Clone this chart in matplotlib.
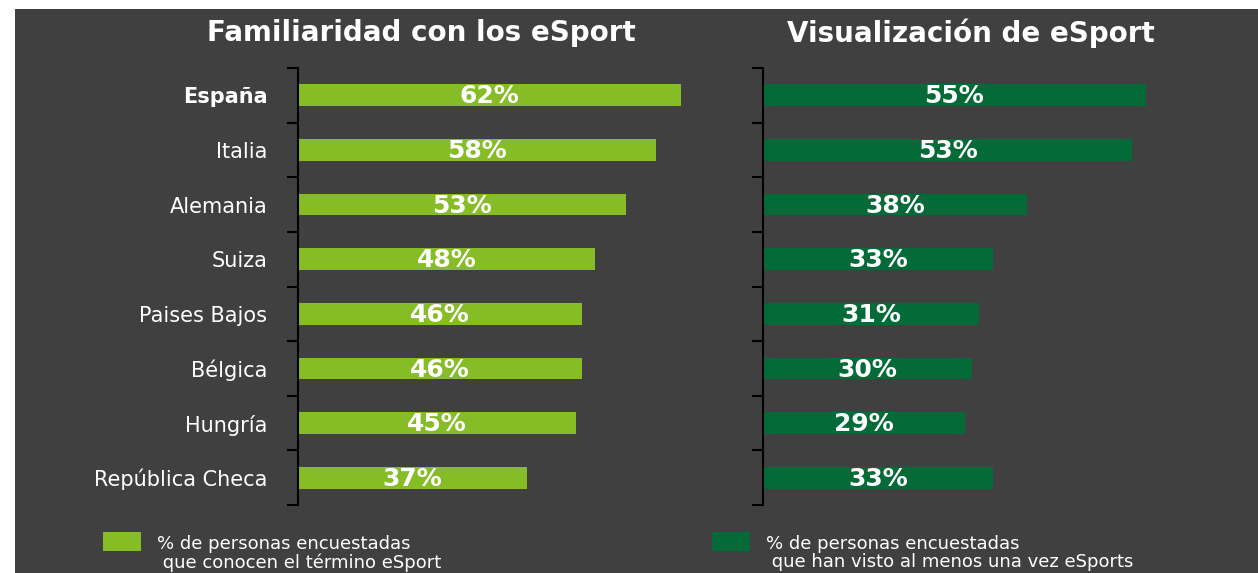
import matplotlib
matplotlib.use('Agg')
import matplotlib.pyplot as plt
from matplotlib.patches import Rectangle

# datos
paises = ['España', 'Italia', 'Alemania', 'Suiza', 'Paises Bajos', 'Bélgica',
          'Hungría', 'República Checa']
familiaridad = [62, 58, 53, 48, 46, 46, 45, 37]
visualizacion = [55, 53, 38, 33, 31, 30, 29, 33]

titulo_izq = 'Familiaridad con los eSport'
titulo_der = 'Visualización de eSport'
leyenda_izq = '% de personas encuestadas\n que conocen el término eSport'
leyenda_der = '% de personas encuestadas\n que han visto al menos una vez eSports'

verde_claro = '#86BC25'
verde_oscuro = '#046A38'
fondo = '#404040'

plt.rcParams['font.family'] = ['DejaVu Sans']

W, H = 1258, 573
fig = plt.figure(figsize=(W / 100, H / 100), dpi=100, facecolor='white')

# fondo oscuro
fig.patches.append(Rectangle((15 / W, 0), 1, 1 - 9 / H, transform=fig.transFigure,
                             facecolor=fondo, edgecolor='none', zorder=-10))

def fx(px):
    return px / W

def fy(py):
    return 1 - py / H

top, bottom = 68, 505
ax1 = fig.add_axes([fx(298), fy(bottom), fx(6.18 * 70), (bottom - top) / H])
ax2 = fig.add_axes([fx(763), fy(bottom), fx(6.96 * 70), (bottom - top) / H])

y = list(range(len(paises)))
for ax, vals, color in [(ax1, familiaridad, verde_claro), (ax2, visualizacion, verde_oscuro)]:
    ax.set_facecolor('none')
    bars = ax.barh(y, vals, height=0.4, color=color)
    ax.set_xlim(0, 70)
    ax.set_ylim(len(paises) - 0.5, -0.5)
    for b, v in zip(bars, vals):
        ax.text(b.get_width() / 2, b.get_y() + b.get_height() / 2 + 0.02, f'{v}%',
                ha='center', va='center', color='white', fontsize=18,
                fontweight='bold')
    for s in ['top', 'right', 'bottom']:
        ax.spines[s].set_visible(False)
    ax.spines['left'].set_color('black')
    ax.spines['left'].set_linewidth(1.5)
    ax.set_xticks([])
    ax.set_yticks(y)
    ax.set_yticks([i - 0.5 for i in range(len(paises) + 1)], minor=True)
    ax.tick_params(axis='y', which='major', length=0, pad=22)
    ax.tick_params(axis='y', which='minor', length=8, width=1.5, color='black')

ax1.set_yticklabels(paises, color='white', fontsize=15)
ax1.get_yticklabels()[0].set_fontweight('bold')
ax2.set_yticklabels([])

fig.text(fx(421), fy(33), titulo_izq, ha='center', va='center', color='white',
         fontsize=20, fontweight='bold')
fig.text(fx(971), fy(33), titulo_der, ha='center', va='center', color='white',
         fontsize=20, fontweight='bold')

# leyenda
for x0, color, texto in [(103, verde_claro, leyenda_izq), (712, verde_oscuro, leyenda_der)]:
    fig.patches.append(Rectangle((fx(x0), fy(551)), 38 / W, 19 / H,
                                 transform=fig.transFigure, facecolor=color,
                                 edgecolor='none'))
    fig.text(fx(x0 + 54), fy(535), texto, ha='left', va='top', color='white',
             fontsize=13, linespacing=1.0)

fig.savefig('out.png', dpi=100, facecolor=fig.get_facecolor())
